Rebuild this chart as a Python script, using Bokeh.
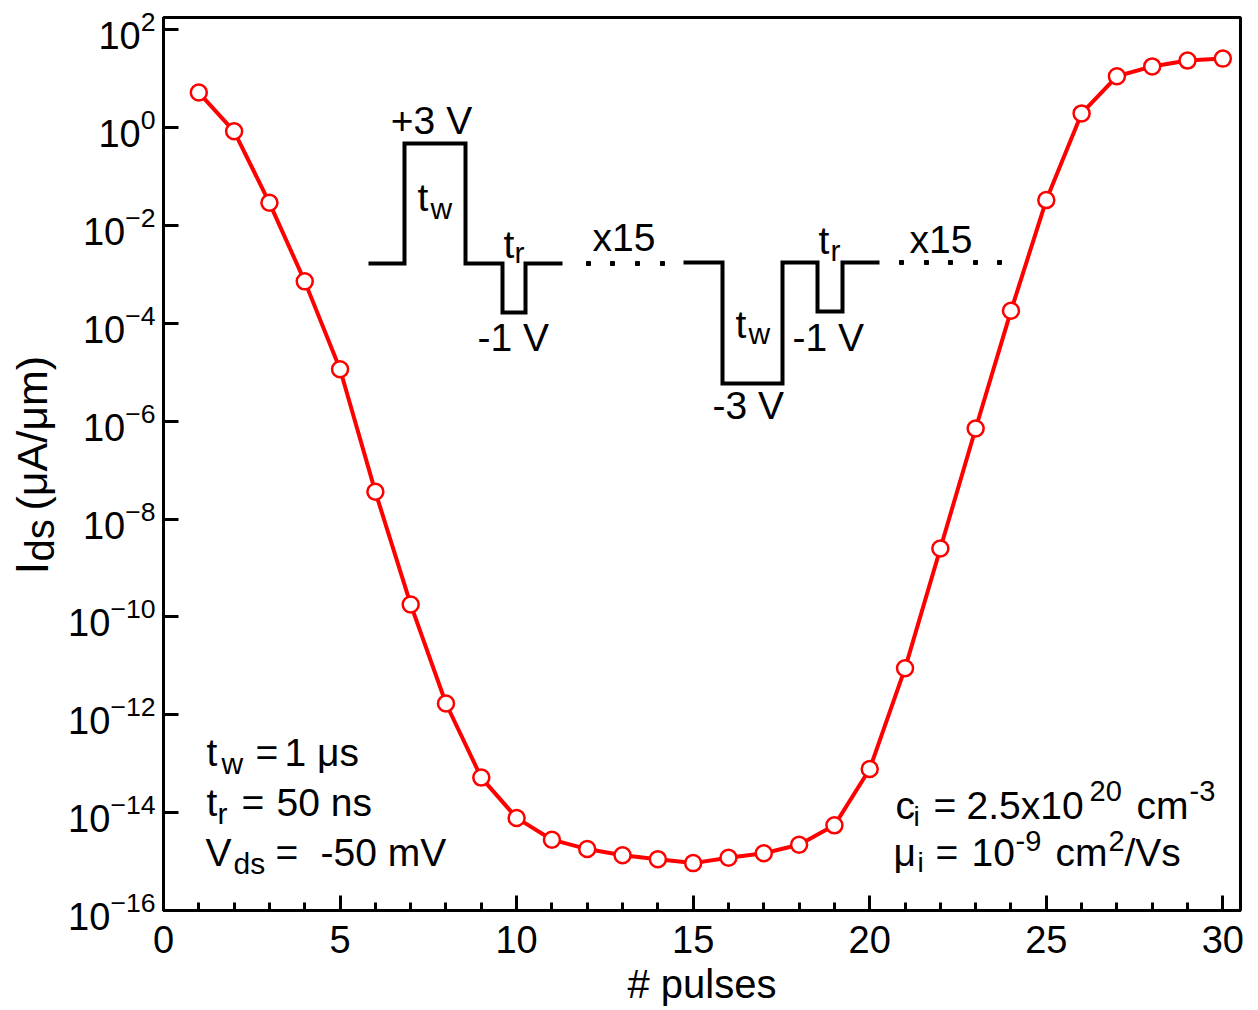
import numpy as np
from bokeh.plotting import figure
from bokeh.layouts import row
from bokeh.models import Range1d, FixedTicker, Label
from bokeh.embed import file_html
from bokeh.resources import INLINE

# ---- data ----
pulses = list(range(1, 31))
ids = [5.2, 0.84, 2.9e-2, 7.2e-4, 1.15e-5, 3.6e-8, 1.8e-10, 1.7e-12, 5.2e-14, 7.8e-15,
       2.8e-15, 1.8e-15, 1.35e-15, 1.12e-15, 9.3e-16, 1.2e-15, 1.48e-15, 2.2e-15, 5.5e-15, 7.8e-14,
       8.9e-12, 2.5e-9, 7.1e-7, 1.8e-4, 3.3e-2, 1.95, 11.2, 17.8, 23.4, 25.7]
x_ticks = [0, 5, 10, 15, 20, 25, 30]
x_minor = list(range(0, 31))
y_ticks = [10.0 ** e for e in range(-16, 3, 2)]

# ---- layout ----
W, H = 1258, 1010
LW = 64                      # width of the strip holding the y-axis title
L, R, T, B = 163, 18, 17, 100
FL, FR, FT, FB = L, W - R, T, H - B
XMIN, XMAX = 0, 30.5
LOGMIN, LOGMAX = -16, 2.25
FONT = "Liberation Sans"
BASE_SHIFT = 0.34            # label baseline correction (em)

p = figure(width=W - LW, height=H, y_axis_type="log",
           x_range=Range1d(XMIN, XMAX), y_range=Range1d(10 ** LOGMIN, 10 ** LOGMAX),
           output_backend="svg", toolbar_location=None,
           min_border_left=L - LW, min_border_right=R, min_border_top=T, min_border_bottom=B)
p.grid.visible = False
p.outline_line_color = "black"
p.outline_line_width = 3
p.outline_line_alpha = 1
p.background_fill_color = "white"
p.border_fill_color = "white"

xa = p.xaxis[0]
xa.ticker = FixedTicker(ticks=x_ticks, minor_ticks=x_minor)
ya = p.yaxis[0]
ya.ticker = FixedTicker(ticks=y_ticks, minor_ticks=[])
for ax in (xa, ya):
    ax.axis_line_width = 3
    ax.major_tick_line_width = 3
    ax.minor_tick_line_width = 3
    ax.major_tick_in = 15
    ax.major_tick_out = 0
    ax.minor_tick_in = 8
    ax.minor_tick_out = 0
    ax.major_label_text_font = FONT
    ax.major_label_text_font_size = "38px"
    ax.major_label_text_color = "black"
ya.minor_tick_in = 0
xa.major_label_standoff = 15
ya.major_label_standoff = 8
xa.axis_label = "# pulses"
xa.axis_label_text_font = FONT
xa.axis_label_text_font_size = "40px"
xa.axis_label_text_font_style = "normal"
xa.axis_label_text_color = "black"
xa.axis_label_standoff = 6

# ---- data series ----
p.line(pulses, ids, line_color="red", line_width=4)
p.scatter(pulses, ids, marker="circle", size=16, fill_color="white",
          line_color="red", line_width=2.5)


# ---- helpers for decorations positioned in canvas pixels ----
def dx(px):
    return XMIN + (px - FL) / (FR - FL) * (XMAX - XMIN)


def dy(py):
    return 10 ** (LOGMAX - (py - FT) / (FB - FT) * (LOGMAX - LOGMIN))


def lab(text, px, py, size=39, align="left"):
    p.add_layout(Label(x=px - FL, y=FB - py + BASE_SHIFT * size,
                       x_units="screen", y_units="screen",
                       text=text, text_font=FONT, text_font_size=f"{size}px",
                       text_color="black", text_align=align, text_baseline="alphabetic"))


# pulse waveform inset
wave1 = [(368, 263), (404, 263), (404, 143), (465, 143), (465, 263), (502, 263),
         (502, 312), (525, 312), (525, 263), (562, 263)]
wave2 = [(683, 262), (722, 262), (722, 383), (782, 383), (782, 262), (817, 262),
         (817, 311), (842, 311), (842, 262), (879, 262)]
for wv in (wave1, wave2):
    p.line([dx(a) for a, b in wv], [dy(b) for a, b in wv], line_color="black",
           line_width=4, line_join="miter")
dots = [(588, 263), (612, 263), (637, 263), (662, 263),
        (901, 262), (926, 262), (950, 262), (975, 262), (999, 262)]
p.scatter([dx(a) for a, b in dots], [dy(b) for a, b in dots], marker="square",
          size=4, fill_color="black", line_color="black")

lab("+3 V", 431, 133, align="center")
lab("t", 417, 210); lab("w", 430, 218, 30)
lab("t", 503, 257); lab("r", 514, 262, 30)
lab("x15", 592, 250)
lab("-1 V", 477, 350)
lab("t", 735, 337); lab("w", 748, 343, 30)
lab("-3 V", 712, 418)
lab("-1 V", 792, 350)
lab("t", 818, 253); lab("r", 830, 260, 30)
lab("x15", 909, 252)

# bottom-left parameters
lab("t", 206, 765); lab("w", 221, 773, 30); lab("=", 255, 765); lab("1 μs", 284, 765)
lab("t", 206, 815); lab("r", 217, 823, 30); lab("=", 241, 815); lab("50 ns", 276, 815)
lab("V", 205, 865); lab("ds", 233, 873, 30); lab("=", 275, 865); lab("-50 mV", 320, 865)

# bottom-right parameters
lab("c", 895, 818); lab("i", 913, 826, 28); lab("=", 933, 818); lab("2.5x10", 966, 818)
lab("20", 1089, 800, 29); lab("cm", 1136, 818); lab("-3", 1189, 800, 29)
lab("μ", 893, 865); lab("i", 917, 872, 28); lab("=", 935, 865); lab("10", 971, 865)
lab("-9", 1015, 850, 29); lab("cm", 1055, 865); lab("2", 1108, 850, 29); lab("/Vs", 1124, 865)

# ---- y-axis title strip (rotated text with subscript) ----
q = figure(width=LW, height=H, x_range=Range1d(0, LW), y_range=Range1d(0, H),
           output_backend="svg", toolbar_location=None,
           x_axis_location=None, y_axis_location=None,
           min_border_left=0, min_border_right=0, min_border_top=0, min_border_bottom=0)
q.grid.visible = False
q.outline_line_color = None
q.background_fill_color = "white"
q.border_fill_color = "white"


def vlab(text, bx, py, size):
    # the strip's frame is aligned with the main frame by the row layout
    q.add_layout(Label(x=bx - BASE_SHIFT * size, y=FB - py, x_units="screen", y_units="screen",
                       text=text, text_font=FONT, text_font_size=f"{size}px",
                       text_color="black", text_align="left", text_baseline="alphabetic",
                       angle=np.pi / 2))


vlab("I", 47, 574, 46)
vlab("ds", 53, 561, 40)
vlab("(μA/μm)", 46, 510, 43)

open("out.html", "w").write(file_html(row(q, p), INLINE))
